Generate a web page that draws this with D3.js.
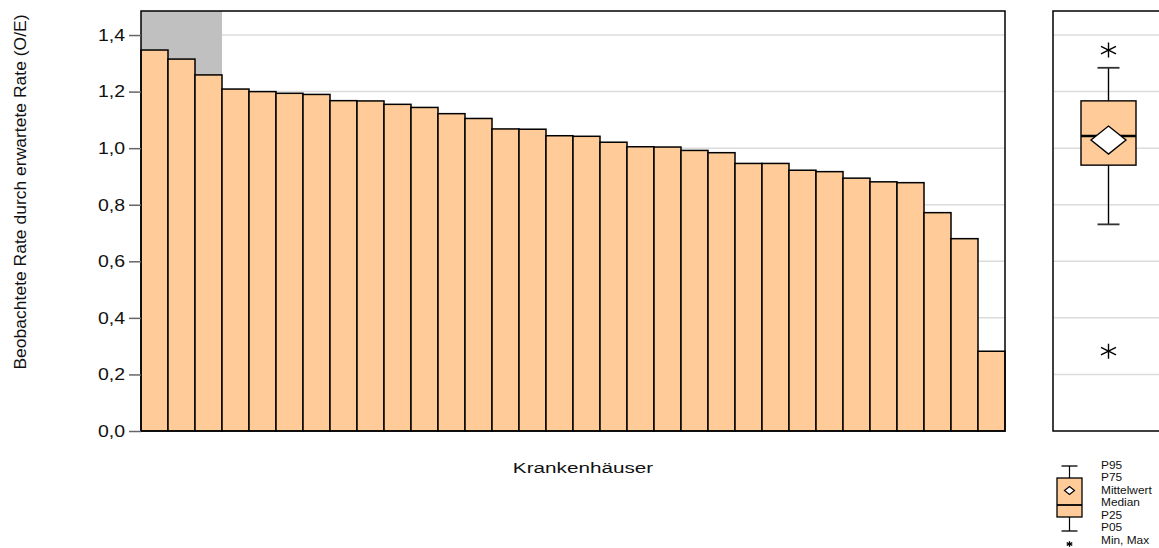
<!DOCTYPE html>
<html>
<head>
<meta charset="utf-8">
<script src="https://cdn.jsdelivr.net/npm/d3@7"></script>
<style>
  html, body { margin: 0; padding: 0; background: #fff; }
  svg { display: block; font-family: "Liberation Sans", Arial, sans-serif; }
</style>
</head>
<body>
<svg id="chart" width="1159" height="548"></svg>
<script>
// ---------- data ----------
const hospitals = ["H01","H02","H03","H04","H05","H06","H07","H08","H09","H10","H11","H12","H13","H14","H15","H16",
                   "H17","H18","H19","H20","H21","H22","H23","H24","H25","H26","H27","H28","H29","H30","H31","H32"];
const oeValues = [1.347,1.315,1.259,1.209,1.200,1.194,1.190,1.168,1.167,1.155,1.144,1.122,1.105,1.068,1.067,1.044,
                  1.042,1.021,1.005,1.004,0.992,0.984,0.946,0.946,0.922,0.917,0.894,0.881,0.878,0.772,0.680,0.282];
const shadedHospitals = ["H01","H02","H03"];
const yTickValues = [0, 0.2, 0.4, 0.6, 0.8, 1.0, 1.2, 1.4];
const yTickLabels = ["0,0","0,2","0,4","0,6","0,8","1,0","1,2","1,4"];
const yTitle = "Beobachtete Rate durch erwartete Rate (O/E)";
const xTitle = "Krankenhäuser";
const legendLabels = ["P95","P75","Mittelwert","Median","P25","P05","Min, Max"];

// ---------- layout ----------
const svg = d3.select("#chart");
const plot = {left: 141, right: 1005, top: 11, bottom: 431};
const boxPanel = {left: 1053, right: 1175};
const barFill = "#ffcc99";
const gridColor = "#dcdcdc";
const textColor = "#111";

const x = d3.scaleBand().domain(hospitals).range([plot.left, plot.right]).padding(0);
const y = d3.scaleLinear().domain([0, 1.485]).range([plot.bottom, plot.top]);

svg.append("rect").attr("width", 1159).attr("height", 548).attr("fill", "#fff");

// gridlines - main panel
const gridVals = yTickValues.filter(v => v > 0);
svg.append("g").selectAll("line").data(gridVals).join("line")
  .attr("x1", plot.left).attr("x2", plot.right)
  .attr("y1", d => y(d)).attr("y2", d => y(d))
  .attr("stroke", gridColor).attr("stroke-width", 1.5);
// gridlines - box panel
svg.append("g").selectAll("line").data(gridVals).join("line")
  .attr("x1", boxPanel.left).attr("x2", boxPanel.right)
  .attr("y1", d => y(d)).attr("y2", d => y(d))
  .attr("stroke", gridColor).attr("stroke-width", 1.5);

// grey shaded region
const sx0 = x(shadedHospitals[0]);
const sx1 = x(shadedHospitals[shadedHospitals.length - 1]) + x.bandwidth();
svg.append("rect")
  .attr("x", sx0).attr("y", plot.top)
  .attr("width", sx1 - sx0).attr("height", plot.bottom - plot.top)
  .attr("fill", "#c0c0c0");

// bars
svg.append("g").selectAll("rect").data(hospitals).join("rect")
  .attr("x", d => x(d))
  .attr("y", (d, i) => y(oeValues[i]))
  .attr("width", x.bandwidth())
  .attr("height", (d, i) => y(0) - y(oeValues[i]))
  .attr("fill", barFill)
  .attr("stroke", "#000")
  .attr("stroke-width", 1.5);

// frames
svg.append("rect")
  .attr("x", plot.left).attr("y", plot.top)
  .attr("width", plot.right - plot.left).attr("height", plot.bottom - plot.top)
  .attr("fill", "none").attr("stroke", "#000").attr("stroke-width", 1.5);
svg.append("rect")
  .attr("x", boxPanel.left).attr("y", plot.top)
  .attr("width", boxPanel.right - boxPanel.left).attr("height", plot.bottom - plot.top)
  .attr("fill", "none").attr("stroke", "#000").attr("stroke-width", 1.5);

// y axis
const tickStretch = 1.18;
const yAxis = d3.axisLeft(y)
  .tickValues(yTickValues)
  .tickFormat((d, i) => yTickLabels[i])
  .tickSize(12)
  .tickPadding(3);
const gy = svg.append("g").attr("transform", `translate(${plot.left},0)`).call(yAxis);
gy.select(".domain").remove();
gy.selectAll(".tick line").attr("stroke", "#666").attr("stroke-width", 1.5);
gy.selectAll(".tick text")
  .attr("font-size", 16.5)
  .attr("fill", textColor)
  .attr("x", -16 / tickStretch)
  .attr("transform", `scale(${tickStretch},1)`)
  .style("font-family", "'Liberation Sans', Arial, sans-serif");

// axis titles
svg.append("text")
  .attr("transform", "translate(26,192) rotate(-90) scale(1.03,1)")
  .attr("text-anchor", "middle")
  .attr("font-size", 17)
  .attr("fill", textColor)
  .text(yTitle);

svg.append("text")
  .attr("transform", "translate(583,473) scale(1.38,1)")
  .attr("text-anchor", "middle")
  .attr("font-size", 15)
  .attr("fill", textColor)
  .text(xTitle);

// ---------- box plot statistics ----------
const sorted = oeValues.slice().sort(d3.ascending);
const stats = {
  p05: d3.quantile(sorted, 0.05),
  p25: d3.quantile(sorted, 0.25),
  median: d3.quantile(sorted, 0.5),
  p75: d3.quantile(sorted, 0.75),
  p95: d3.quantile(sorted, 0.95),
  mean: d3.mean(sorted),
  min: d3.min(sorted),
  max: d3.max(sorted)
};

function asterisk(g, cx, cy, r, w) {
  const a = Math.PI / 6;
  const arms = [[0, r], [r * 1.15 * Math.cos(a), r * Math.sin(a)], [-r * 1.15 * Math.cos(a), r * Math.sin(a)]];
  arms.forEach(p => {
    g.append("line")
      .attr("x1", cx - p[0]).attr("y1", cy - p[1])
      .attr("x2", cx + p[0]).attr("y2", cy + p[1])
      .attr("stroke", "#000").attr("stroke-width", w);
  });
}

function drawBox(g, cx, yS, boxW, capW, dW, dH, medW, lw) {
  g.append("line").attr("x1", cx).attr("x2", cx).attr("y1", yS(stats.p95)).attr("y2", yS(stats.p75))
    .attr("stroke", "#000").attr("stroke-width", lw);
  g.append("line").attr("x1", cx).attr("x2", cx).attr("y1", yS(stats.p25)).attr("y2", yS(stats.p05))
    .attr("stroke", "#000").attr("stroke-width", lw);
  [stats.p95, stats.p05].forEach(v => {
    g.append("line").attr("x1", cx - capW / 2).attr("x2", cx + capW / 2)
      .attr("y1", yS(v)).attr("y2", yS(v))
      .attr("stroke", "#333").attr("stroke-width", lw * 1.3);
  });
  g.append("rect")
    .attr("x", cx - boxW / 2).attr("y", yS(stats.p75))
    .attr("width", boxW).attr("height", yS(stats.p25) - yS(stats.p75))
    .attr("fill", barFill).attr("stroke", "#000").attr("stroke-width", lw);
  g.append("line").attr("x1", cx - boxW / 2).attr("x2", cx + boxW / 2)
    .attr("y1", yS(stats.median)).attr("y2", yS(stats.median))
    .attr("stroke", "#000").attr("stroke-width", medW);
  const my = yS(stats.mean);
  g.append("path")
    .attr("d", `M${cx - dW / 2},${my} L${cx},${my - dH / 2} L${cx + dW / 2},${my} L${cx},${my + dH / 2} Z`)
    .attr("fill", "#fff").attr("stroke", "#000").attr("stroke-width", lw);
}

const boxG = svg.append("g");
const boxCx = 1108.5;
drawBox(boxG, boxCx, y, 55, 22, 35, 28, 2.5, 1.4);
asterisk(boxG, boxCx, y(stats.max), 7.5, 1.4);
asterisk(boxG, boxCx, y(stats.min), 7.5, 1.4);

// ---------- legend (schematic box) ----------
const legG = svg.append("g");
const lcx = 1069.5;
const yy = {p95: 466, p75: 478, mean: 490.5, median: 505, p25: 517, p05: 531};
legG.append("line").attr("x1", lcx).attr("x2", lcx).attr("y1", yy.p95).attr("y2", yy.p75).attr("stroke", "#000").attr("stroke-width", 1.2);
legG.append("line").attr("x1", lcx).attr("x2", lcx).attr("y1", yy.p25).attr("y2", yy.p05).attr("stroke", "#000").attr("stroke-width", 1.2);
[yy.p95, yy.p05].forEach(v => legG.append("line").attr("x1", lcx - 8).attr("x2", lcx + 8).attr("y1", v).attr("y2", v).attr("stroke", "#000").attr("stroke-width", 1.3));
legG.append("rect").attr("x", lcx - 12.5).attr("y", yy.p75).attr("width", 25).attr("height", yy.p25 - yy.p75)
  .attr("fill", barFill).attr("stroke", "#000").attr("stroke-width", 1.3);
legG.append("line").attr("x1", lcx - 12.5).attr("x2", lcx + 12.5).attr("y1", yy.median).attr("y2", yy.median).attr("stroke", "#000").attr("stroke-width", 1.8);
legG.append("path")
  .attr("d", `M${lcx - 5},${yy.mean} L${lcx},${yy.mean - 4} L${lcx + 5},${yy.mean} L${lcx},${yy.mean + 4} Z`)
  .attr("fill", "#fff").attr("stroke", "#000").attr("stroke-width", 1.2);
asterisk(legG, lcx, 544, 2.8, 1.3);

const legBaselines = [469, 481, 494, 506.5, 519, 531.5, 544];
legG.selectAll("text.leg").data(legendLabels).join("text")
  .attr("class", "leg")
  .attr("x", 1101 / 1.1)
  .attr("y", (d, i) => legBaselines[i])
  .attr("font-size", 10.8)
  .attr("fill", textColor)
  .attr("transform", "scale(1.1,1)")
  .text(d => d);
</script>
</body>
</html>
